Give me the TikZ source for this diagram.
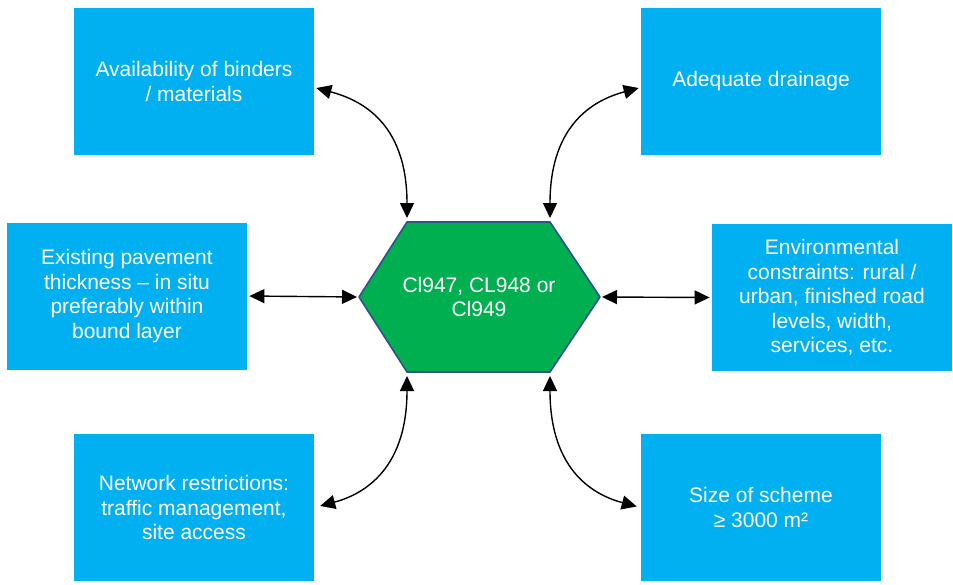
\documentclass[tikz,border=0pt]{standalone}
\usepackage{fontspec}
\setmainfont{Liberation Sans}
\usepackage{tikz}
\usetikzlibrary{arrows.meta}
\usepackage{tkz-euclide}

\definecolor{boxblue}{HTML}{00B0F0}
\definecolor{hexgreen}{HTML}{00B050}
\definecolor{hexedge}{HTML}{2F528F}

\tikzset{
  factor/.style={fill=boxblue, text=white, align=center, inner sep=2pt,
    minimum width=120pt, minimum height=73.5pt,
    font=\fontsize{10.5}{12.2}\selectfont},
  link/.style={{Triangle[length=7.5pt,width=7pt]}-{Triangle[length=7.5pt,width=7pt]},
    line width=0.7pt}
}

\begin{document}
\begin{tikzpicture}[x=0.5pt,y=0.5pt]

  \useasboundingbox (0,0) rectangle (953,-584);

  \node[factor] (avail)   at (194,-81.5)  {Availability of binders\\/ materials};
  \node[factor] (drain)   at (761,-81.5)  {Adequate drainage};
  \node[factor] (exist)   at (127,-296)   {Existing pavement\\thickness -- in situ\\preferably within\\bound layer};
  \node[factor] (env)     at (832,-297.5) {Environmental\\constraints: rural /\\urban, finished road\\levels, width,\\services, etc.};
  \node[factor] (network) at (194,-507.5) {Network restrictions:\\traffic management,\\site access};
  \node[factor] (size)    at (761,-507.5) {Size of scheme\\≥ 3000 m²};

  \tkzDefPoint(359,-297){L}
  \tkzDefPoint(407,-222){TL}
  \tkzDefPoint(550,-222){TR}
  \tkzDefPoint(600,-297){R}
  \tkzDefPoint(550,-372){BR}
  \tkzDefPoint(407,-372){BL}
  \tkzDrawPolygon[fill=hexgreen, draw=hexedge, line width=0.8pt](L,TL,TR,R,BR,BL)
  \node[text=white, align=center, font=\fontsize{10.5}{12.2}\selectfont] (hexlabel) at (479,-297) {Cl947, CL948 or\\Cl949};

  \draw[link, shorten <=1pt, shorten >=2pt] ([yshift=-3pt]avail.east) to[out=-15,in=90,out looseness=0.7,in looseness=1.6] (TL);
  \draw[link, shorten <=2pt, shorten >=1pt] (TR) to[out=90,in=-165,out looseness=1.6,in looseness=0.7] ([yshift=-3pt]drain.west);

  \draw[link, shorten <=1pt, shorten >=1pt] (exist.east) -- (L);
  \draw[link, shorten <=1pt, shorten >=1pt] (R) -- (env.west);

  \draw[link, shorten <=2pt, shorten >=3pt] (BL) to[out=-90,in=15,out looseness=1.6,in looseness=0.7] (network.east);
  \draw[link, shorten <=2pt, shorten >=2pt] (BR) to[out=-90,in=165,out looseness=1.6,in looseness=0.7] (size.west);

\end{tikzpicture}
\end{document}
